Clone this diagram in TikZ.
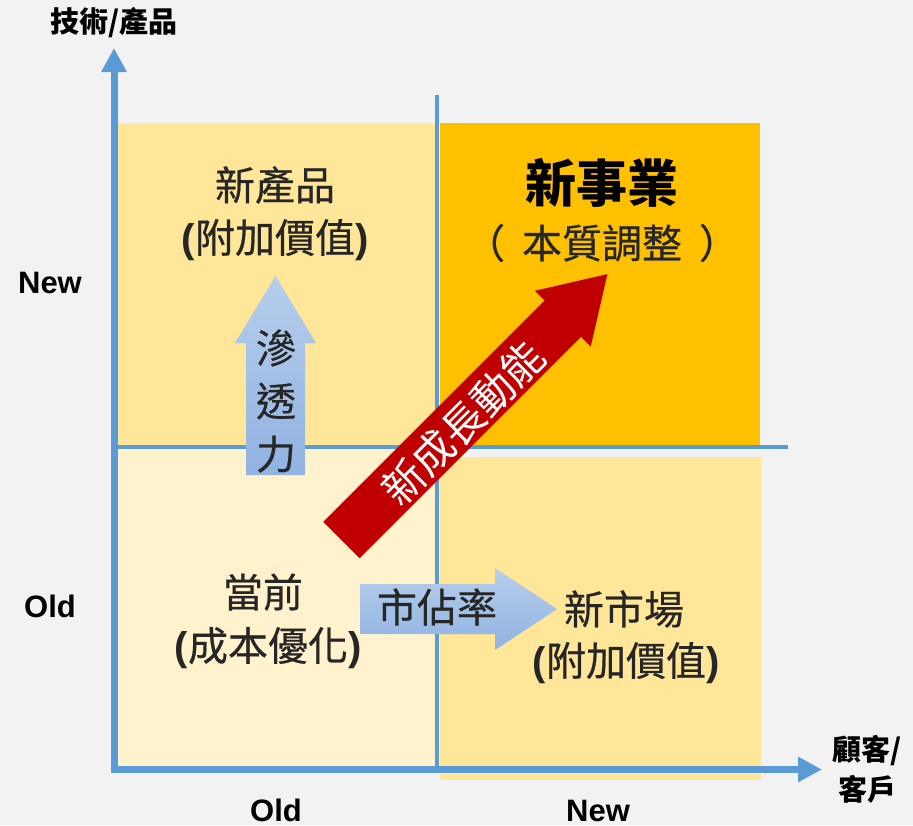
\documentclass[tikz,border=0pt]{standalone}
\usepackage{fontspec}
\newfontfamily\cjk{Noto Sans CJK TC}
\newfontfamily\cjkm{Noto Sans CJK TC}[FakeBold=0.5]
\newfontfamily\lat{Liberation Sans}
\usetikzlibrary{arrows.meta}
\definecolor{bg}{HTML}{F2F2F2}
\definecolor{axisblue}{HTML}{5B9BD5}
\definecolor{qlight}{HTML}{FFE699}
\definecolor{qgold}{HTML}{FFC000}
\definecolor{qpale}{HTML}{FFF2CC}
\definecolor{txt}{HTML}{262626}
\definecolor{arrowred}{HTML}{C00000}
\definecolor{ablueA}{HTML}{B6CEEB}
\definecolor{ablueB}{HTML}{90B3E2}
\newcommand\pxs[2]{\fontsize{#1}{#2}\selectfont}
\newcommand\myopen{{\lat\bfseries(}}
\newcommand\myclose{{\lat\bfseries)}}
\begin{document}
\begin{tikzpicture}[x=1pt,y=-1pt,
  quad/.style={inner sep=0pt, outer sep=0pt, anchor=north west, draw=none},
  axisline/.style={draw=axisblue, line width=7pt, line join=miter},
  divider/.style={draw=axisblue, line width=4pt},
  qtext/.style={text=txt, inner sep=0pt, font=\cjkm\pxs{40}{48}},
  axlabel/.style={text=black, inner sep=0pt, font=\lat\bfseries\pxs{31}{36}, anchor=base},
  cjklabel/.style={text=black, inner sep=0pt, align=center},
  bluearrow/.style={top color=ablueA, bottom color=ablueB, draw=none}
]
\useasboundingbox (0,0) rectangle (913,825);
\fill[bg] (0,0) rectangle (913,825);

% quadrants
\node[quad, fill=qlight, minimum width=317pt, minimum height=322pt] (tl) at (118,123) {};
\node[quad, fill=qgold,  minimum width=320pt, minimum height=322pt] (tr) at (440,123) {};
\node[quad, fill=qpale,  minimum width=317pt, minimum height=319pt] (bl) at (118,449) {};
\node[quad, fill=qlight, minimum width=321pt, minimum height=323pt] (br) at (440,457) {};

% dividers
\coordinate (vtop) at (437,95);
\coordinate (vbot) at (437,770);
\coordinate (hleft) at (114,447);
\coordinate (hright) at (788,447);
\draw[divider] (vtop) -- (vbot);
\draw[divider] (hleft) -- (hright);

% axes
\coordinate (O) at (114,769.5);
\coordinate (Ytip) at (114,48);
\coordinate (Xtip) at (822,769.5);
\draw[axisline, {Triangle[width=24pt,length=24pt]}-{Triangle[width=24pt,length=24pt]}] (Ytip) -- (O) -- (Xtip);

% up arrow
\shade[bluearrow] (246,475) -- (246,343) -- (235,343) -- (275.5,276) -- (316,343) -- (305,343) -- (305,475) -- cycle;
% right arrow
\shade[bluearrow] (360,584) -- (495,584) -- (495,568) -- (557,609) -- (495,650) -- (495,634) -- (360,634) -- cycle;
% red arrow
\fill[arrowred] (323.3,521.8) -- (544.6,300.5) -- (534.9,290.8) -- (607.4,274.1) -- (590.7,346.6) -- (581.0,336.9) -- (359.7,558.2) -- cycle;

% arrow texts
\node[qtext, align=center, font=\cjkm\pxs{40}{53}] (pen) at (276,401) {滲\\透\\力};
\node[qtext] (share) at (437,607) {市佔率};
\node[inner sep=0pt, text=white, rotate=45, font=\cjk\pxs{42}{48}] (growth) at (463,423) {新成長動能};

% quadrant texts
\node[qtext] (tlA) at (275,185) {新產品};
\node[qtext] (tlB) at (275,240) {\myopen 附加價值\myclose};
\node[qtext, text=black, font=\cjk\bfseries\pxs{51}{58}] (trA) at (602,183) {新事業};
\node[qtext] (trB) at (602,243) {（\hspace{17pt}本質調整\hspace{17pt}）};
\node[qtext] (blA) at (263,592) {當前};
\node[qtext] (blB) at (268,648) {\myopen 成本優化\myclose};
\node[qtext] (brA) at (624,609) {新市場};
\node[qtext] (brB) at (626,663) {\myopen 附加價值\myclose};

% axis labels
\node[cjklabel, font=\cjk\bfseries\pxs{29}{32}] (ylab) at (114,23) {技術/產品};
\node[cjklabel, font=\cjk\bfseries\pxs{29}{40}] (xlab) at (867,769) {顧客/\\客戶};
\node[axlabel] (ynew) at (50,293) {New};
\node[axlabel] (yold) at (50,617) {Old};
\node[axlabel] (xold) at (276,821) {Old};
\node[axlabel] (xnew) at (598,821) {New};
\end{tikzpicture}
\end{document}
